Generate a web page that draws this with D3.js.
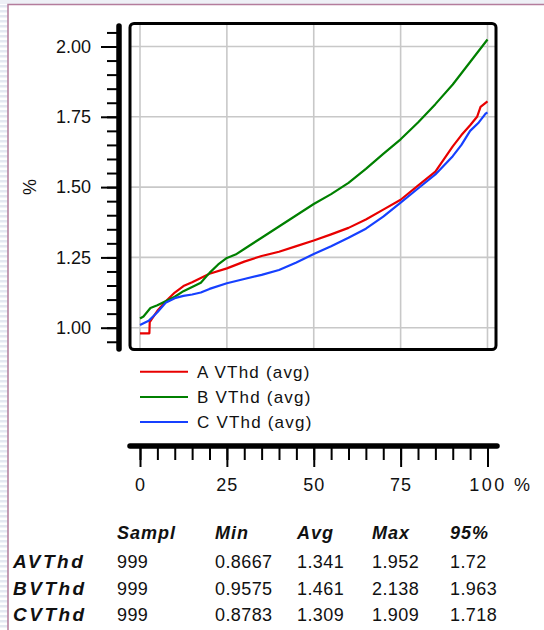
<!DOCTYPE html>
<html>
<head>
<meta charset="utf-8">
<script src="https://cdn.jsdelivr.net/npm/d3@7"></script>
<style>
  body { margin: 0; background: #fff; }
  text { font-family: "Liberation Sans", Arial, sans-serif; fill: #111; }
</style>
</head>
<body>
<div id="chart"></div>
<script>
// Data (percentile -> value)

var pctA = [0, 2.7, 2.8, 5, 7.5, 10, 12.5, 15, 17.5, 20, 25, 30, 35, 40, 45, 50, 55, 60, 65, 70, 75, 80, 85, 90, 92.5, 95, 97, 98, 100];
var valA = [0.98, 0.98, 1.02, 1.06, 1.095, 1.125, 1.148, 1.162, 1.177, 1.192, 1.211, 1.235, 1.255, 1.27, 1.29, 1.31, 1.332, 1.355, 1.385, 1.42, 1.455, 1.505, 1.555, 1.645, 1.685, 1.72, 1.75, 1.785, 1.805];

var pctB = [0, 1, 3, 5, 7.5, 10, 12.5, 15, 17.5, 20, 22.5, 25, 27.5, 30, 35, 40, 45, 50, 55, 60, 65, 70, 75, 80, 85, 90, 95, 97.5, 100];
var valB = [1.033, 1.04, 1.07, 1.08, 1.095, 1.11, 1.13, 1.145, 1.16, 1.195, 1.225, 1.248, 1.26, 1.28, 1.32, 1.36, 1.40, 1.44, 1.475, 1.515, 1.565, 1.618, 1.67, 1.73, 1.795, 1.865, 1.945, 1.985, 2.025];

var pctC = [0, 2.5, 5, 7.5, 10, 12.5, 15, 17.5, 20, 25, 30, 35, 40, 45, 50, 55, 60, 65, 70, 75, 80, 85, 90, 92.5, 95, 97.5, 99.5, 100];
var valC = [1.01, 1.025, 1.055, 1.09, 1.105, 1.113, 1.118, 1.125, 1.138, 1.158, 1.173, 1.188, 1.205, 1.232, 1.262, 1.29, 1.32, 1.352, 1.395, 1.445, 1.495, 1.545, 1.61, 1.65, 1.70, 1.73, 1.762, 1.765];

var seriesNames = ["A VThd (avg)", "B VThd (avg)", "C VThd (avg)"];
var seriesColors = ["#e80000", "#008000", "#1640ff"];

var yTicks = [1.00, 1.25, 1.50, 1.75, 2.00];
var xTicks = [0, 25, 50, 75, 100];

// stats table
var tableHeaders = ["Sampl", "Min", "Avg", "Max", "95%"];
var rowNames = ["AVThd", "BVThd", "CVThd"];
var statsA = ["999", "0.8667", "1.341", "1.952", "1.72"];
var statsB = ["999", "0.9575", "1.461", "2.138", "1.963"];
var statsC = ["999", "0.8783", "1.309", "1.909", "1.718"];

// Setup

var svgWidth = 544, svgHeight = 630;

var svg = d3.select("#chart")
    .append("svg")
        .attr("width", svgWidth)
        .attr("height", svgHeight);

// faint striped page background on the left / top edge
var stripes = svg.append("g");
stripes.selectAll("rect.s")
    .data(d3.range(0, svgHeight, 5))
    .enter().append("rect")
        .attr("x", 0).attr("y", function(d) { return d; })
        .attr("width", 8).attr("height", 2.5)
        .attr("fill", "#e4e8f1");
stripes.append("rect")
    .attr("x", 0).attr("y", 0).attr("width", svgWidth).attr("height", 4)
    .attr("fill", "#eef0f6");

// mauve page frame
svg.append("rect")
    .attr("x", 8).attr("y", 4.5)
    .attr("width", svgWidth).attr("height", svgHeight)
    .attr("fill", "#fff")
    .attr("stroke", "#b47c9c")
    .attr("stroke-width", 1.5);

// scales
var x = d3.scaleLinear().domain([0, 100]).range([140, 487.5]);
var y = d3.scaleLinear().domain([1, 2]).range([327.7, 46.5]);

var frame = { left: 130, top: 23.5, right: 496, bottom: 349.5 };

svg.append("clipPath").attr("id", "plotClip")
    .append("rect")
        .attr("x", frame.left).attr("y", frame.top)
        .attr("width", frame.right - frame.left)
        .attr("height", frame.bottom - frame.top);

// grid
var grid = svg.append("g");
grid.selectAll("line.gx")
    .data(xTicks)
    .enter().append("line")
        .attr("x1", function(d) { return x(d); })
        .attr("x2", function(d) { return x(d); })
        .attr("y1", frame.top).attr("y2", frame.bottom)
        .attr("stroke", "#c8c8c8").attr("stroke-width", 1.6);
grid.selectAll("line.gy")
    .data(yTicks)
    .enter().append("line")
        .attr("x1", frame.left).attr("x2", frame.right)
        .attr("y1", function(d) { return y(d); })
        .attr("y2", function(d) { return y(d); })
        .attr("stroke", "#c8c8c8").attr("stroke-width", 1.6);

// lines
var line = d3.line()
    .x(function(d) { return x(d[0]); })
    .y(function(d) { return y(d[1]); })
    .curve(d3.curveLinear);

var seriesData = [d3.zip(pctA, valA), d3.zip(pctB, valB), d3.zip(pctC, valC)];

svg.append("g")
    .attr("clip-path", "url(#plotClip)")
    .selectAll("path")
    .data(seriesData)
    .enter().append("path")
        .attr("d", line)
        .attr("fill", "none")
        .attr("stroke", function(d, i) { return seriesColors[i]; })
        .attr("stroke-width", 2.2)
        .attr("stroke-linejoin", "round");

// plot frame
svg.append("rect")
    .attr("x", frame.left).attr("y", frame.top)
    .attr("width", frame.right - frame.left)
    .attr("height", frame.bottom - frame.top)
    .attr("rx", 4)
    .attr("fill", "none")
    .attr("stroke", "#000")
    .attr("stroke-width", 3);

// Y axis
var yAxisX = 119;

var yMinor = svg.append("g")
    .attr("transform", "translate(" + yAxisX + ",0)")
    .call(d3.axisLeft(y).tickValues(d3.range(0.95, 2.06, 0.05)).tickSize(12).tickFormat(""));

var yMajor = svg.append("g")
    .attr("transform", "translate(" + yAxisX + ",0)")
    .call(d3.axisLeft(y).tickValues(yTicks).tickSize(18).tickPadding(10)
        .tickFormat(d3.format(".2f")));

[yMinor, yMajor].forEach(function(g) {
    g.select(".domain").remove();
    g.selectAll("line").attr("stroke", "#000").attr("stroke-width", 2);
});
yMajor.selectAll("text")
    .attr("font-size", "18px")
    .attr("font-family", "Liberation Sans, Arial, sans-serif")
    .attr("fill", "#111");

svg.append("line")
    .attr("x1", yAxisX).attr("x2", yAxisX)
    .attr("y1", 26).attr("y2", 349)
    .attr("stroke", "#000").attr("stroke-width", 5.5)
    .attr("stroke-linecap", "round");

svg.append("text")
    .attr("transform", "translate(36,187) rotate(-90)")
    .attr("text-anchor", "middle")
    .attr("font-size", "18px")
    .text("%");

// legend
var legend = svg.append("g");
var legendY = [371.7, 397, 422];
seriesNames.forEach(function(name, i) {
    legend.append("line")
        .attr("x1", 140).attr("x2", 188)
        .attr("y1", legendY[i]).attr("y2", legendY[i])
        .attr("stroke", seriesColors[i]).attr("stroke-width", 2);
    legend.append("text")
        .attr("x", 197).attr("y", legendY[i])
        .attr("dy", "0.36em")
        .attr("font-size", "17px")
        .attr("letter-spacing", "1.2px")
        .text(name);
});

// X axis (separate bar under the legend)
var xAxisY = 446;

var xMinor = svg.append("g")
    .attr("transform", "translate(0," + xAxisY + ")")
    .call(d3.axisBottom(x).tickValues(d3.range(0, 101, 5)).tickSize(14).tickFormat(""));

var xMajor = svg.append("g")
    .attr("transform", "translate(0," + xAxisY + ")")
    .call(d3.axisBottom(x).tickValues(xTicks).tickSize(21).tickPadding(11));

[xMinor, xMajor].forEach(function(g) {
    g.select(".domain").remove();
    g.selectAll("line").attr("stroke", "#000").attr("stroke-width", 2);
});
xMajor.selectAll("text")
    .attr("font-size", "18px")
    .attr("font-family", "Liberation Sans, Arial, sans-serif")
    .attr("fill", "#111")
    .attr("letter-spacing", function(d) { return d === 100 ? "2.5px" : "1px"; });

svg.append("text")
    .attr("x", 514).attr("y", 491)
    .attr("font-size", "18px")
    .text("%");

svg.append("line")
    .attr("x1", 130).attr("x2", 497)
    .attr("y1", xAxisY).attr("y2", xAxisY)
    .attr("stroke", "#000").attr("stroke-width", 5.5)
    .attr("stroke-linecap", "round");

// stats table
var colX = [117, 215, 297, 372, 450];
var rowY = [567.5, 595, 621];
var rows = [statsA, statsB, statsC];

var table = svg.append("g");
table.selectAll("text.h")
    .data(tableHeaders)
    .enter().append("text")
        .attr("x", function(d, i) { return colX[i]; })
        .attr("y", 538.5)
        .attr("font-size", "18px")
        .attr("font-weight", "bold")
        .attr("font-style", "italic")
        .attr("letter-spacing", "1px")
        .text(function(d) { return d; });

rows.forEach(function(r, j) {
    table.append("text")
        .attr("x", 13).attr("y", rowY[j])
        .attr("font-size", "19px")
        .attr("font-weight", "bold")
        .attr("font-style", "italic")
        .attr("letter-spacing", "2.5px")
        .text(rowNames[j]);
    table.selectAll("text.r" + j)
        .data(r)
        .enter().append("text")
            .attr("x", function(d, i) { return colX[i]; })
            .attr("y", rowY[j])
            .attr("font-size", "18px")
            .attr("letter-spacing", "0.4px")
            .text(function(d) { return d; });
});
</script>
</body>
</html>
